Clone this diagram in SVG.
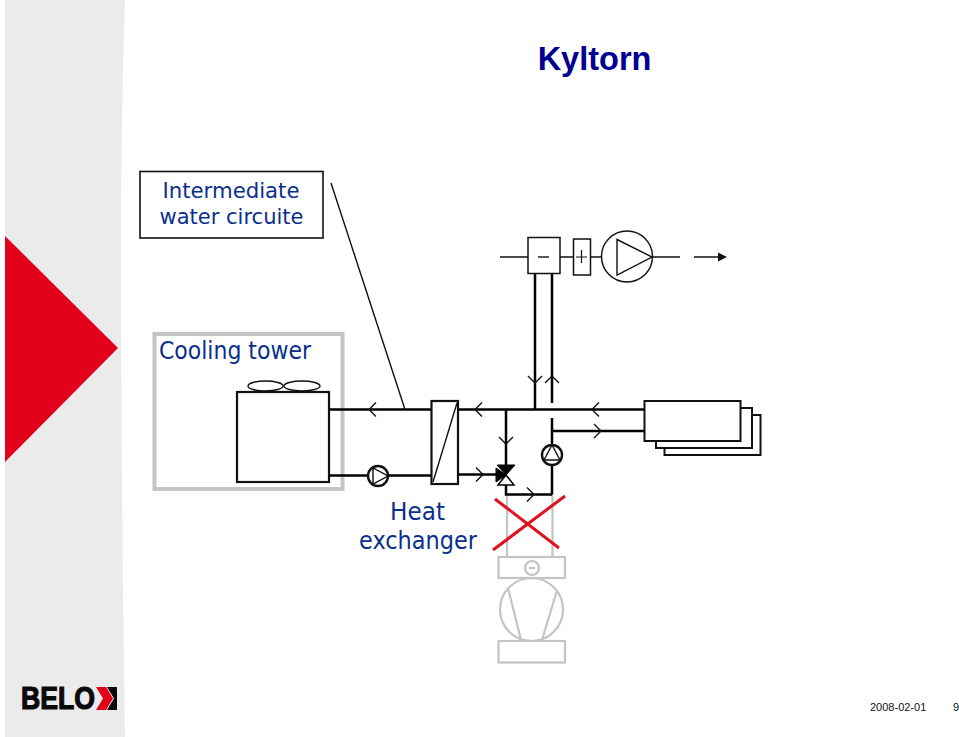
<svg xmlns="http://www.w3.org/2000/svg" width="959" height="737" viewBox="0 0 959 737">
<style>
.p{fill:none;stroke:#000;stroke-width:2.5}
.t{fill:none;stroke:#111;stroke-width:1.4}
.b{fill:#fff;stroke:#111;stroke-width:2.2}
.c{fill:none;stroke:#111;stroke-width:1.4}
.g{fill:none;stroke:#c4c4c4;stroke-width:2.2}
.l{font-family:"DejaVu Sans",sans-serif;fill:#0a2f8c;text-anchor:middle}
.f{font-family:"Liberation Sans",Arial,sans-serif;fill:#111}
</style>
<defs>
<path id="ch" class="c" d="M-7-7 0 0-7 7"/>
</defs>
<rect width="959" height="737" fill="#fff"/>
<g id="band">
<path d="M5 0H125Q121 120 121 240Q121 480 125 737H5Z" fill="#ebebeb"/>
<polygon points="5,236 118,348 5,462" fill="#e2001a"/>
</g>
<g id="logo">
<text x="21" y="709" font-family="Liberation Sans,Arial,sans-serif" font-weight="bold" font-size="31" textLength="74" lengthAdjust="spacingAndGlyphs" fill="#0a0a0a" stroke="#0a0a0a" stroke-width="1.2">BELO</text>
<polygon points="96,687 106,687 113,698.500 106,710 96,710 103,698.500" fill="#e2001a"/>
<polygon points="107,687 117,687 117,710 107,710 114,698.500" fill="#0a0a0a"/>
</g>
<text id="title" x="594.5" y="70" font-family="Liberation Sans,Arial,sans-serif" font-weight="bold" font-size="32.500" fill="#000090" text-anchor="middle">Kyltorn</text>
<g id="label-intermediate">
<rect x="140" y="171.500" width="183" height="66.500" fill="#fff" stroke="#111" stroke-width="1.6"/>
<text class="l" x="231" y="198" font-size="22" textLength="137" lengthAdjust="spacingAndGlyphs">Intermediate</text>
<text class="l" x="231.500" y="224" font-size="22" textLength="144" lengthAdjust="spacingAndGlyphs">water circuite</text>
</g>
<g id="cooling-tower">
<rect x="154.500" y="334" width="188" height="155" fill="none" stroke="#c4c4c4" stroke-width="4"/>
<text class="l" x="235" y="359" font-size="24" textLength="152" lengthAdjust="spacingAndGlyphs">Cooling tower</text>
<rect class="b" x="237" y="392" width="92" height="90"/>
<ellipse class="t" cx="265.500" cy="386" rx="17.500" ry="5" stroke-width="1.8"/>
<ellipse class="t" cx="302" cy="386" rx="18" ry="5" stroke-width="1.8"/>
</g>
<g id="gray-unit">
<path class="g" d="M507 494V557M552.500 494V557"/>
<rect class="g" x="498.500" y="557" width="66.500" height="21"/>
<circle class="g" cx="532" cy="568" r="7"/>
<path class="g" d="M529 568H535"/>
<circle class="g" cx="531.500" cy="609.500" r="31.500"/>
<path class="g" d="M508.500 590 521 640M556.500 592 542 640"/>
<rect class="g" x="498.500" y="641" width="66.500" height="21.500"/>
</g>
<g id="connectors">
<path class="t" d="M331 183 405 409.500"/>
<path class="p" d="M329 409.500H431M458 409.500H645M329 475.500H367M389 475.500H431M458 474.500H497M535 273V409.500M552 273V403M552 418V494.500M552 431H645M506 409.500V465M506 485V494.500H552"/>
<path class="t" d="M500 257H528M560 257H573.500M590.500 257H602M652 257H680M694 257H718"/>
<polygon points="718,252.500 727,257 718,261.500" fill="#111"/>
<use href="#ch" transform="translate(369 409.500) rotate(180)"/>
<use href="#ch" transform="translate(475 409.500) rotate(180)"/>
<use href="#ch" transform="translate(592 409.500) rotate(180)"/>
<use href="#ch" transform="translate(601 431)"/>
<use href="#ch" transform="translate(483 474.500)"/>
<use href="#ch" transform="translate(534 494.500)"/>
<use href="#ch" transform="translate(506 444) rotate(90)"/>
<use href="#ch" transform="translate(535 383) rotate(90)"/>
<use href="#ch" transform="translate(552 376) rotate(-90)"/>
</g>
<g id="heat-exchanger">
<rect class="b" x="431.500" y="401" width="26.500" height="83"/>
<path class="t" d="M433 482 457 403"/>
<text class="l" x="417.500" y="520" font-size="24" textLength="55" lengthAdjust="spacingAndGlyphs">Heat</text>
<text class="l" x="418" y="549" font-size="24" textLength="118" lengthAdjust="spacingAndGlyphs">exchanger</text>
</g>
<g id="pump-left">
<circle cx="378" cy="476" r="10" fill="#fff" stroke="#111" stroke-width="2.400"/>
<polygon points="373,468 373,484 388,476" fill="none" stroke="#111" stroke-width="1.4"/>
</g>
<g id="pump-right">
<circle cx="552" cy="455" r="10" fill="#fff" stroke="#111" stroke-width="2.400"/>
<polygon points="544,460 560,460 552,445" fill="none" stroke="#111" stroke-width="1.4"/>
</g>
<g id="valve">
<polygon points="497,465 515,465 506,475" fill="#000" stroke="#000"/>
<polygon points="496,468 496,482 506,475" fill="#000" stroke="#000"/>
<polygon points="498,485 514,485 506,475" fill="#fff" stroke="#000" stroke-width="1.5"/>
</g>
<g id="evaporator">
<rect x="528" y="237.500" width="32" height="36" fill="#fff" stroke="#111" stroke-width="1.5"/>
<path d="M538 257H549" stroke="#111" stroke-width="1.4"/>
</g>
<g id="condenser-top">
<rect x="573.500" y="239" width="17" height="36" fill="#fff" stroke="#111" stroke-width="1.5"/>
<path d="M576 257H587M581.500 250V263" stroke="#111" stroke-width="1.2"/>
</g>
<g id="compressor">
<circle cx="627" cy="256.500" r="25.500" fill="#fff" stroke="#111" stroke-width="1.4"/>
<polygon points="617,239.500 617,275 652,257" fill="none" stroke="#111" stroke-width="1.4"/>
</g>
<g id="coolers">
<rect x="664.500" y="415" width="96" height="40" fill="#fff" stroke="#111" stroke-width="2"/>
<rect x="656" y="408" width="96" height="40" fill="#fff" stroke="#111" stroke-width="2"/>
<rect x="644.500" y="401" width="96" height="40" fill="#fff" stroke="#111" stroke-width="2"/>
</g>
<g id="red-cross">
<path d="M495 499 559 548M565 496 493 550" stroke="#e0101c" stroke-width="3" fill="none"/>
</g>
<g id="footer">
<text class="f" x="870" y="711" font-size="11">2008-02-01</text>
<text class="f" x="953" y="711" font-size="11">9</text>
</g>
</svg>
